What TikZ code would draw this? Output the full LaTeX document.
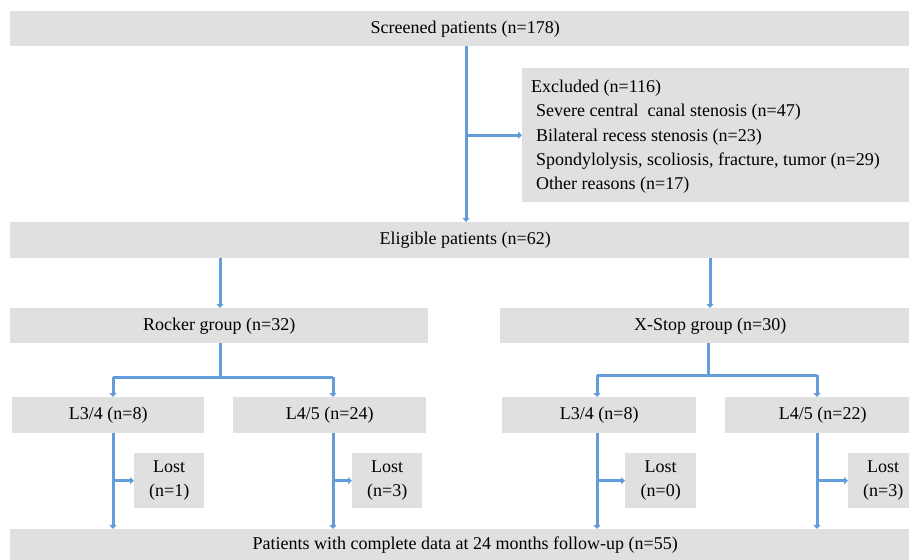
\documentclass[tikz,border=0pt]{standalone}
\usepackage{fontspec}
\setmainfont{Liberation Serif}
\usetikzlibrary{arrows.meta}
\definecolor{boxgray}{RGB}{224,224,224}
\definecolor{lineblue}{RGB}{100,156,218}
\tikzset{
  box/.style={fill=boxgray, draw=none, inner sep=0pt, anchor=north west, font=\fontsize{18}{24}\selectfont},
  conn/.style={draw=lineblue, line width=3pt},
  arr/.style={conn, -{Triangle[length=4pt,width=7pt]}}
}
\begin{document}
\begin{tikzpicture}[x=1pt,y=-1pt]
\useasboundingbox (0,0) rectangle (909,559);
\clip (0,0) rectangle (909,559);
\fill[white] (0,0) rectangle (909,559);
% boxes
\node[box, minimum width=910, minimum height=35] (screened) at (10,11) {Screened patients (n=178)};
\node[box, minimum width=398, minimum height=134] (excluded) at (522,68) {};
\node[anchor=north west, inner sep=0pt, align=left, font=\fontsize{18}{24.3}\selectfont] (exctext) at (531,80) {Excluded (n=116)\\\hspace*{5pt}Severe central\ \ canal stenosis (n=47)\\\hspace*{5pt}Bilateral recess stenosis (n=23)\\\hspace*{5pt}Spondylolysis, scoliosis, fracture, tumor (n=29)\\\hspace*{5pt}Other reasons (n=17)};
\node[box, minimum width=910, minimum height=36] (eligible) at (10,222) {Eligible patients (n=62)};
\node[box, minimum width=418, minimum height=35] (rocker) at (10,308) {Rocker group (n=32)};
\node[box, minimum width=420, minimum height=35] (xstop) at (500,308) {X-Stop group (n=30)};
\node[box, minimum width=192, minimum height=36] (l34a) at (12,397) {L3/4 (n=8)};
\node[box, minimum width=193, minimum height=36] (l45a) at (233,397) {L4/5 (n=24)};
\node[box, minimum width=194, minimum height=36] (l34b) at (502,397) {L3/4 (n=8)};
\node[box, minimum width=195, minimum height=36] (l45b) at (725,397) {L4/5 (n=22)};
\node[box, minimum width=70, minimum height=55, align=center] (lost1) at (134,453) {Lost\\(n=1)};
\node[box, minimum width=70, minimum height=55, align=center] (lost2) at (352,453) {Lost\\(n=3)};
\node[box, minimum width=71, minimum height=55, align=center] (lost3) at (625,453) {Lost\\(n=0)};
\node[box, minimum width=70, minimum height=55, align=center] (lost4) at (848,453) {Lost\\(n=3)};
\node[box, minimum width=910, minimum height=32] (bottom) at (10,529) {Patients with complete data at 24 months follow-up (n=55)};
% coordinates
\coordinate (x1) at (466,0);
\coordinate (xr) at (220,0);
\coordinate (xx) at (710,0);
\coordinate (xxs) at (708,0);
\coordinate (a1) at (113,0);
\coordinate (a2) at (333,0);
\coordinate (b1) at (597,0);
\coordinate (b2) at (817,0);
\coordinate (ry) at (0,377);
\coordinate (xy) at (0,375);
% connectors
\draw[arr] (screened.south -| x1) -- (eligible.north -| x1);
\draw[arr] (x1 |- excluded.west) -- (excluded.west);
\draw[arr] (eligible.south -| xr) -- (rocker.north -| xr);
\draw[arr] (eligible.south -| xx) -- (xstop.north -| xx);
\draw[conn] (rocker.south -| xr) -- (ry -| xr);
\draw[conn] (ry -| a1) -- (ry -| a2);
\draw[arr] (ry -| a1) -- (l34a.north -| a1);
\draw[arr] (ry -| a2) -- (l45a.north -| a2);
\draw[conn] (xstop.south -| xxs) -- (xy -| xxs);
\draw[conn] (xy -| b1) -- (xy -| b2);
\draw[arr] (xy -| b1) -- (l34b.north -| b1);
\draw[arr] (xy -| b2) -- (l45b.north -| b2);
\draw[arr] (l34a.south -| a1) -- (bottom.north -| a1);
\draw[arr] (l45a.south -| a2) -- (bottom.north -| a2);
\draw[arr] (l34b.south -| b1) -- (bottom.north -| b1);
\draw[arr] (l45b.south -| b2) -- (bottom.north -| b2);
\draw[arr] (a1 |- lost1.west) -- (lost1.west);
\draw[arr] (a2 |- lost2.west) -- (lost2.west);
\draw[arr] (b1 |- lost3.west) -- (lost3.west);
\draw[arr] (b2 |- lost4.west) -- (lost4.west);
\end{tikzpicture}
\end{document}
